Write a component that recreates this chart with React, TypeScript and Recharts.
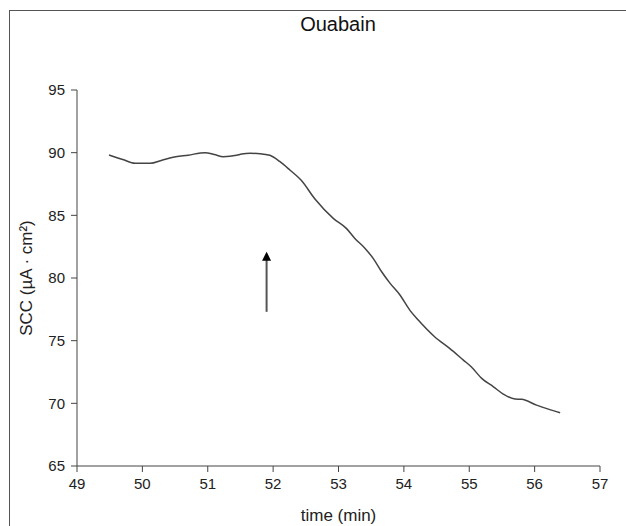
import { LineChart, Line, XAxis, YAxis, ReferenceLine } from 'recharts'

const times = [
  49.49, 49.7, 49.89, 50.12, 50.3, 50.47, 50.7, 50.96, 51.1, 51.24, 51.44, 51.52, 51.65, 51.8,
  51.95, 52.1, 52.26, 52.43, 52.64, 52.92, 53.12, 53.25, 53.4, 53.53, 53.66, 53.79, 53.94,
  54.09, 54.22, 54.47, 54.7, 54.91, 55.03, 55.19, 55.37, 55.52, 55.7, 55.8, 56.03, 56.21, 56.39,
]
const scc = [
  89.81, 89.45, 89.15, 89.15, 89.4, 89.63, 89.8, 90.0, 89.85, 89.68, 89.79, 89.89, 89.95, 89.92,
  89.79, 89.3, 88.6, 87.8, 86.3, 84.76, 83.96, 83.16, 82.4, 81.57, 80.5, 79.57, 78.64,
  77.44, 76.64, 75.31, 74.38, 73.45, 72.92, 71.99, 71.32, 70.74, 70.34, 70.32, 69.86, 69.54, 69.25,
]

const xTicks = [49, 50, 51, 52, 53, 54, 55, 56, 57]
const yTicks = [65, 70, 75, 80, 85, 90, 95]

// arrow annotation: [time, from SCC, to SCC]
const arrow = [51.9, 77.3, 82.1]

const data = times.map((t, i) => ({ t, v: scc[i] }))

const font = '"Liberation Sans", Arial, sans-serif'

function Arrow(props: any) {
  const { x1, y1, x2, y2 } = props
  const tip = Math.min(y1, y2)
  const base = Math.max(y1, y2)
  return (
    <g>
      <line x1={x1} y1={base} x2={x2} y2={tip + 8} stroke="#555" strokeWidth={2} />
      <polygon points={`${x1},${tip} ${x1 - 4.5},${tip + 9} ${x1 + 4.5},${tip + 9}`} fill="#000" />
    </g>
  )
}

export default function App() {
  return (
    <div
      style={{
        position: 'absolute',
        left: 0,
        top: 0,
        width: 626,
        height: 526,
        overflow: 'hidden',
        background: '#fff',
        fontFamily: font,
      }}
    >
      <div
        style={{
          position: 'absolute',
          left: 9,
          top: 10,
          width: 700,
          height: 600,
          borderLeft: '1px solid #555',
          borderTop: '1px solid #555',
        }}
      />
      <div
        style={{
          position: 'absolute',
          top: 13,
          left: 0,
          width: 676,
          textAlign: 'center',
          fontSize: 20,
          color: '#111',
        }}
      >
        Ouabain
      </div>
      <div style={{ position: 'absolute', left: 0, top: 0 }}>
        <LineChart
          width={626}
          height={526}
          data={data}
          margin={{ top: 90, right: 26, bottom: 0, left: 37 }}
        >
          <XAxis
            xAxisId="top"
            orientation="top"
            dataKey="t"
            type="number"
            domain={[49, 57]}
            height={0}
            tick={false}
            tickLine={false}
            axisLine={{ stroke: '#444' }}
          />
          <YAxis
            yAxisId="right"
            orientation="right"
            type="number"
            domain={[65, 95]}
            width={0}
            tick={false}
            tickLine={false}
            axisLine={{ stroke: '#444' }}
          />
          <XAxis
            dataKey="t"
            type="number"
            domain={[49, 57]}
            ticks={xTicks}
            height={60}
            tickSize={6}
            tickMargin={6}
            tickLine={{ stroke: '#444' }}
            axisLine={{ stroke: '#444' }}
            tick={{ fill: '#222', fontSize: 15, fontFamily: font }}
            label={{
              value: 'time (min)',
              position: 'insideBottom',
              offset: 5,
              fill: '#222',
              fontSize: 17,
              fontFamily: font,
            }}
          />
          <YAxis
            type="number"
            domain={[65, 95]}
            ticks={yTicks}
            width={40}
            tickSize={6}
            tickMargin={6}
            tickLine={{ stroke: '#444' }}
            axisLine={{ stroke: '#444' }}
            tick={{ fill: '#222', fontSize: 15, fontFamily: font }}
            label={{
              value: 'SCC (µA · cm²)',
              angle: -90,
              position: 'insideLeft',
              offset: -11,
              style: { textAnchor: 'middle' },
              fill: '#222',
              fontSize: 17,
              fontFamily: font,
            }}
          />
          <ReferenceLine
            segment={[
              { x: arrow[0], y: arrow[1] },
              { x: arrow[0], y: arrow[2] },
            ]}
            shape={<Arrow />}
          />
          <Line
            dataKey="v"
            type="monotone"
            stroke="#444"
            strokeWidth={1.5}
            dot={false}
            isAnimationActive={false}
          />
        </LineChart>
      </div>
    </div>
  )
}
